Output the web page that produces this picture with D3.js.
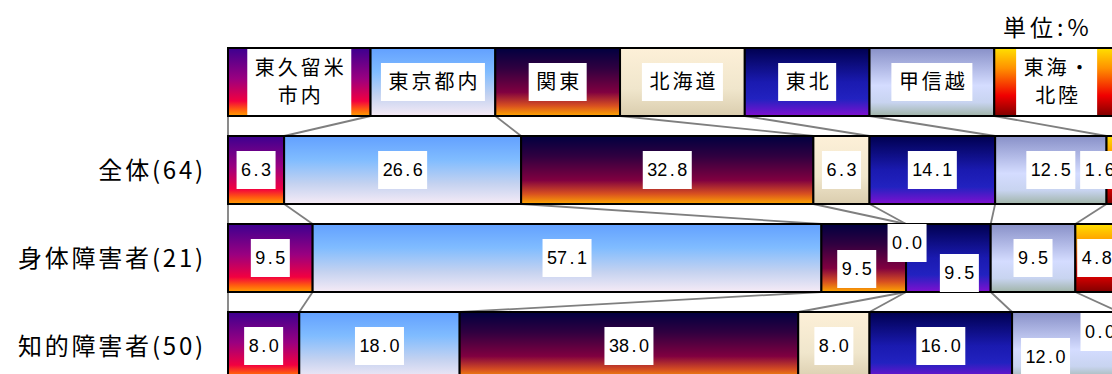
<!DOCTYPE html>
<html>
<head>
<meta charset="utf-8">
<script src="https://cdn.jsdelivr.net/npm/d3@7"></script>
<style>
  body { margin: 0; background: #fff; }
  svg { display: block; }
</style>
</head>
<body>
<div id="chart"></div>
<script>
// categories (regions) and rows
var categories = ["東久留米市内", "東京都内", "関東", "北海道", "東北", "甲信越", "東海・北陸"];
var headerLabels = ["東久留米\n市内", "東京都内", "関東", "北海道", "東北", "甲信越", "東海・\n北陸"];
var headerShare = [16, 14, 14, 14, 14, 14, 14];

var groups = ["全体(64)", "身体障害者(21)", "知的障害者(50)"];
var valuesAll = [6.3, 26.6, 32.8, 6.3, 14.1, 12.5, 1.6];
var valuesPhysical = [9.5, 57.1, 9.5, 0.0, 9.5, 9.5, 4.8];
var valuesIntellectual = [8.0, 18.0, 38.0, 8.0, 16.0, 12.0, 0.0];

var unitLabel = "単位:%";

var w = 1112, h = 374;

// label nudges for crowded segments (row index | category index)
var nudge = {
    "0|6": [-14, 0],
    "1|2": [-7, 11],
    "1|3": [1, -15],
    "1|4": [11, 15],
    "2|5": [-20, 11],
    "2|6": [-19, -14]
};

// gradients, top to bottom
var gradStops = [
    [[0, "#3c0090"], [0.45, "#9a0080"], [0.78, "#f20040"], [0.9, "#ff5a10"], [1, "#ffa000"]],
    [[0, "#62a0ff"], [0.35, "#80bcff"], [0.7, "#c4d2f0"], [1, "#f6ebf6"]],
    [[0, "#000040"], [0.3, "#300040"], [0.65, "#800040"], [0.85, "#d85020"], [1, "#ffa800"]],
    [[0, "#fdf0d8"], [0.6, "#f0e6cc"], [1, "#dacdae"]],
    [[0, "#000050"], [0.5, "#1a1ab0"], [0.75, "#2222c0"], [1, "#8010d0"]],
    [[0, "#8890c8"], [0.55, "#d4dcff"], [0.8, "#c8d4f0"], [1, "#a0b4a8"]],
    [[0, "#ffe000"], [0.3, "#ff9000"], [0.7, "#f00000"], [1, "#800000"]]
];

var rows = [
    {key: "header", values: headerShare},
    {key: groups[0], values: valuesAll},
    {key: groups[1], values: valuesPhysical},
    {key: groups[2], values: valuesIntellectual}
];
rows.forEach(function (r) {
    var c = Array.from(d3.cumsum(r.values));
    r.segs = r.values.map(function (v, i) {
        return {v: v, i: i, x0: i === 0 ? 0 : c[i - 1], x1: c[i]};
    });
});

var x = d3.scaleLinear().domain([0, 100]).range([228, 1119]);
var pad = 20 / 88;
var y = d3.scaleBand()
    .domain(rows.map(function (r) { return r.key; }))
    .range([38, 390])
    .paddingInner(pad)
    .paddingOuter(pad / 2);

var svg = d3.select("#chart").append("svg")
    .attr("width", w)
    .attr("height", h);

var defs = svg.append("defs");
gradStops.forEach(function (stops, i) {
    var g = defs.append("linearGradient")
        .attr("id", "grad" + i)
        .attr("x1", 0).attr("y1", 0).attr("x2", 0).attr("y2", 1);
    stops.forEach(function (s) {
        g.append("stop").attr("offset", s[0]).attr("stop-color", s[1]);
    });
});

// series lines between rows
var lines = svg.append("g")
    .attr("stroke", "#7f7f7f")
    .attr("stroke-width", 1.8);
for (var r = 0; r < rows.length - 1; r++) {
    var a = rows[r], b = rows[r + 1];
    var yA = y(a.key) + y.bandwidth(), yB = y(b.key);
    lines.append("line")
        .attr("x1", x(0)).attr("x2", x(0))
        .attr("y1", yA).attr("y2", yB);
    a.segs.forEach(function (s, i) {
        lines.append("line")
            .attr("x1", x(s.x1)).attr("y1", yA)
            .attr("x2", x(b.segs[i].x1)).attr("y2", yB);
    });
}

// bars
rows.forEach(function (row) {
    svg.append("g").selectAll("rect")
        .data(row.segs.filter(function (s) { return s.v > 0; }))
        .enter()
        .append("rect")
        .attr("x", function (d) { return x(d.x0); })
        .attr("y", y(row.key))
        .attr("width", function (d) { return x(d.x1) - x(d.x0); })
        .attr("height", y.bandwidth())
        .attr("fill", function (d) { return "url(#grad" + d.i + ")"; })
        .attr("stroke", "#000")
        .attr("stroke-width", 2);
});

// header labels
var hRow = rows[0];
hRow.segs.forEach(function (s) {
    var lbl = headerLabels[s.i].split("\n");
    var cx = x((s.x0 + s.x1) / 2), cy = y(hRow.key) + y.bandwidth() / 2;
    var g = svg.append("g");
    var box = g.append("rect").attr("fill", "#fff");
    var t = g.append("text")
        .attr("text-anchor", "middle")
        .style("font-family", "'Noto Sans CJK JP', sans-serif")
        .style("font-size", "20px")
        .style("letter-spacing", "3px")
        .attr("fill", "#000");
    lbl.forEach(function (line, k) {
        t.append("tspan")
            .attr("x", cx + 1.5)
            .attr("y", cy + (k - (lbl.length - 1) / 2) * 28)
            .attr("dy", "0.35em")
            .text(line);
    });
    var bw = t.node().getBBox().width + 12;
    var bh = lbl.length > 1 ? y.bandwidth() - 2 : 38;
    box.attr("x", cx - bw / 2).attr("y", cy - bh / 2)
        .attr("width", bw).attr("height", bh);
});

// value labels, fixed character pitch
var pitch = 10;
rows.slice(1).forEach(function (row, ri) {
    row.segs.forEach(function (s) {
        var n = nudge[ri + "|" + s.i] || [0, 0];
        var cx = x((s.x0 + s.x1) / 2) + n[0];
        var cy = y(row.key) + y.bandwidth() / 2 + n[1];
        var str = s.v.toFixed(1);
        var xs = str.split("").map(function (ch, k) {
            return cx + (k + 0.5 - str.length / 2) * pitch;
        });
        var bw = str.length * pitch + 9;
        var g = svg.append("g");
        g.append("rect").attr("fill", "#fff")
            .attr("x", cx - bw / 2).attr("y", cy - 19)
            .attr("width", bw).attr("height", 38);
        g.append("text")
            .attr("x", xs.join(" "))
            .attr("y", cy)
            .attr("dy", "0.36em")
            .attr("text-anchor", "middle")
            .style("font-family", "'Liberation Sans', Arial, sans-serif")
            .style("font-size", "18px")
            .attr("fill", "#000")
            .text(str);
    });
});

// row labels
svg.append("g").selectAll("text")
    .data(groups)
    .enter()
    .append("text")
    .attr("x", 206)
    .attr("y", function (d) { return y(d) + y.bandwidth() / 2; })
    .attr("dy", "0.36em")
    .attr("text-anchor", "end")
    .style("font-family", "'Noto Sans CJK JP', sans-serif")
    .style("font-size", "24px")
    .style("letter-spacing", "2.8px")
    .attr("fill", "#000")
    .text(function (d) { return d; });

// unit
svg.append("text")
    .attr("x", 1003)
    .attr("y", 28)
    .attr("dy", "0.36em")
    .style("font-family", "'Noto Sans CJK JP', sans-serif")
    .style("font-size", "23px")
    .style("letter-spacing", "4px")
    .attr("fill", "#000")
    .text(unitLabel);
</script>
</body>
</html>
